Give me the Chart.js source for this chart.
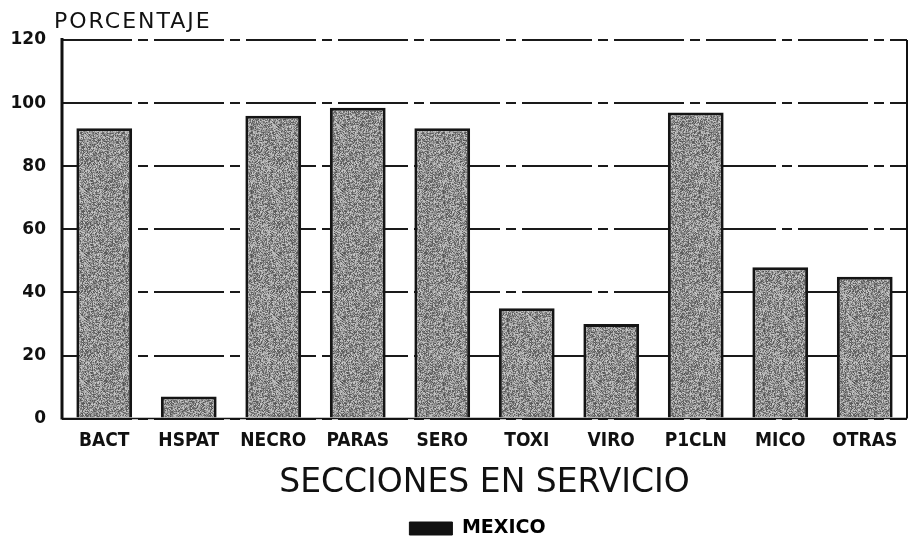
<!DOCTYPE html>
<html>
<head>
<meta charset="utf-8">
<script src="https://cdn.jsdelivr.net/npm/chart.js@4.4.1/dist/chart.umd.min.js"></script>
<style>
  html, body { margin: 0; padding: 0; background: #ffffff; }
  #wrap { width: 914px; height: 541px; }
</style>
</head>
<body>
<div id="wrap"><canvas id="c" width="914" height="541"></canvas></div>
<script>
// ---- data ----
const categories = ["BACT", "HSPAT", "NECRO", "PARAS", "SERO", "TOXI", "VIRO", "P1CLN", "MICO", "OTRAS"];
const mexico = [92, 7, 96, 98.5, 92, 35, 30, 97, 48, 45];
const seriesName = "MEXICO";
const yAxisLabel = "PORCENTAJE";
const xAxisLabel = "SECCIONES EN SERVICIO";
const yMax = 120;
const yStep = 20;

// ---- stippled grey texture for the bars (deterministic) ----
function makePattern() {
  const p = document.createElement('canvas');
  p.width = 64; p.height = 64;
  const g = p.getContext('2d');
  const img = g.createImageData(64, 64);
  let s = 12345;
  function rnd() { s = (s * 1103515245 + 12345) & 0x7fffffff; return s / 0x7fffffff; }
  for (let i = 0; i < 64 * 64; i++) {
    const v = Math.round(80 + rnd() * 125);
    img.data[i * 4] = v; img.data[i * 4 + 1] = v; img.data[i * 4 + 2] = v; img.data[i * 4 + 3] = 255;
  }
  g.putImageData(img, 0, 0);
  return g.createPattern(p, 'repeat');
}

const wideFont = "'DejaVu Sans', 'Liberation Sans', sans-serif";
const narrowFont = "'Liberation Sans Narrow', 'DejaVu Sans Condensed', 'Liberation Sans', sans-serif";

const framePlugin = {
  id: 'frame',
  afterLayout(chart) {
    const lg = chart.legend;
    if (lg) { lg.left += 21; lg.right += 21; lg.top += 7; lg.bottom += 7; }
  },
  afterDatasetsDraw(chart) {
    const { ctx, chartArea: a } = chart;
    ctx.save();
    ctx.strokeStyle = '#111';
    ctx.lineWidth = 3;
    ctx.beginPath(); ctx.moveTo(a.left, a.top - 2); ctx.lineTo(a.left, a.bottom + 1); ctx.stroke();
    ctx.lineWidth = 2;
    ctx.beginPath(); ctx.moveTo(a.right, a.top); ctx.lineTo(a.right, a.bottom); ctx.stroke();
    ctx.lineWidth = 1.5;
    ctx.beginPath(); ctx.moveTo(a.left, a.bottom); ctx.lineTo(a.right, a.bottom); ctx.stroke();
    // y axis title
    ctx.fillStyle = '#111';
    ctx.font = "normal 22px " + wideFont;
    if ('letterSpacing' in ctx) ctx.letterSpacing = '2px';
    ctx.textBaseline = 'alphabetic';
    ctx.textAlign = 'left';
    ctx.fillText(yAxisLabel, a.left - 8, a.top - 12);
    ctx.restore();
  }
};

const barFill = makePattern();

new Chart(document.getElementById('c'), {
  type: 'bar',
  data: {
    labels: categories,
    datasets: [{
      label: seriesName,
      data: mexico,
      backgroundColor: barFill,
      borderColor: '#151515',
      borderWidth: 3,
      borderSkipped: 'bottom',
      barPercentage: 0.66,
      categoryPercentage: 1.0
    }]
  },
  options: {
    responsive: false,
    animation: false,
    layout: { padding: { left: 6, right: 7, top: 40, bottom: 0 } },
    scales: {
      x: {
        grid: { display: false, drawTicks: false },
        border: { display: false },
        ticks: {
          color: '#111',
          padding: 11,
          maxRotation: 0,
          font: { family: narrowFont, size: 19, weight: 'bold' }
        },
        title: {
          display: true,
          text: xAxisLabel,
          color: '#111',
          padding: { top: 0, bottom: 7 },
          font: { family: wideFont, size: 33, weight: 'normal' }
        }
      },
      y: {
        min: 0,
        max: yMax,
        afterFit(scale) { scale.width = 56; },
        grid: { color: '#1a1a1a', lineWidth: 2, drawTicks: false },
        border: { display: false, dash: [70, 6, 10, 6] },
        ticks: {
          stepSize: yStep,
          color: '#111',
          padding: 16,
          font: { family: wideFont, size: 17, weight: 'bold' }
        }
      }
    },
    plugins: {
      legend: {
        position: 'bottom',
        labels: {
          color: '#111',
          boxWidth: 43,
          boxHeight: 13,
          padding: 2,
          font: { family: wideFont, size: 19, weight: 'bold' },
          generateLabels(chart) {
            return [{ text: seriesName, fillStyle: '#111', strokeStyle: '#111', lineWidth: 1, datasetIndex: 0 }];
          }
        }
      },
      tooltip: { enabled: false }
    }
  },
  plugins: [framePlugin]
});
</script>
</body>
</html>
